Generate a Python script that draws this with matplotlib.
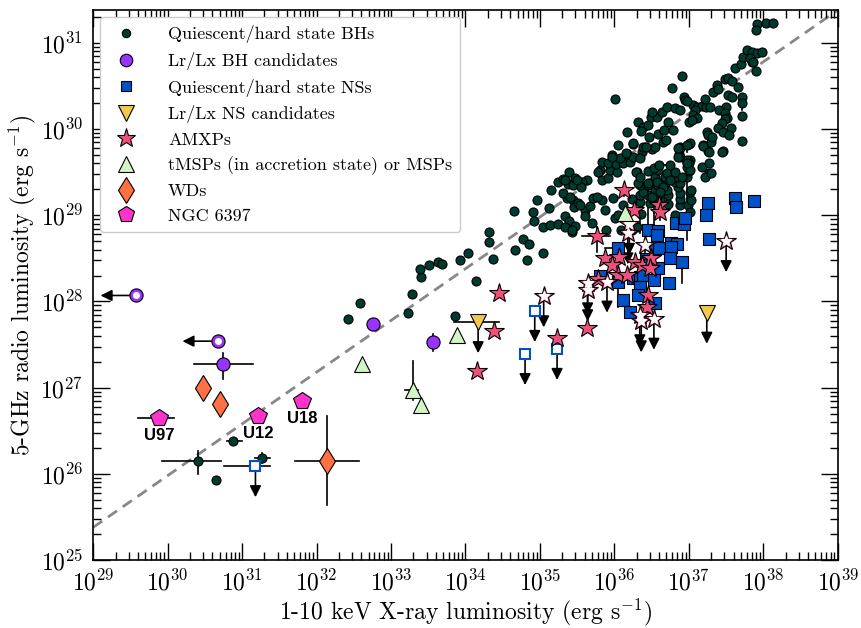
"""
Radio / X-ray luminosity plane for quiescent and hard-state compact binaries.
Values are log10 luminosities (erg/s) read off the reference figure.
"""

import numpy as np
import matplotlib

matplotlib.use("Agg")
from matplotlib import pyplot as plt
from matplotlib.lines import Line2D
from matplotlib.ticker import FixedLocator, LogLocator, NullFormatter

# ------------------- Data (log10 Lx, log10 Lr) ----------------------

bh_points = [
    (30.65, 25.93), (32.42, 27.80), (32.58, 27.98), (33.23, 27.87), (33.28, 28.09),
    (33.86, 27.83), (33.40, 28.28), (33.39, 28.38), (33.51, 28.42), (33.63, 28.46),
    (33.68, 28.43), (33.93, 28.48), (34.03, 28.56), (34.14, 28.24), (34.32, 28.81),
    (34.32, 28.69), (34.37, 28.49), (34.65, 29.05), (34.66, 28.60), (34.83, 28.48),
    (34.77, 28.72), (34.85, 28.67), (35.04, 28.56), (34.91, 29.04), (34.92, 28.93),
    (34.96, 29.18), (35.04, 28.86), (35.12, 29.08), (35.13, 28.89), (35.15, 29.29),
    (35.24, 29.39), (35.24, 28.90), (35.31, 29.42), (35.34, 28.99), (35.38, 29.36),
    (35.39, 29.50), (35.39, 28.93), (35.44, 29.35), (35.44, 29.18), (35.46, 29.10),
    (35.47, 29.43), (35.47, 28.87), (35.43, 28.81), (35.51, 29.14), (35.60, 29.06),
    (35.67, 29.11), (35.34, 28.86), (35.43, 28.83), (35.70, 28.91), (35.60, 28.99),
    (35.54, 29.12), (35.71, 29.20), (35.83, 29.18), (35.36, 29.20), (35.31, 29.26),
    (35.89, 28.83), (36.09, 28.83), (36.01, 28.97), (36.05, 29.00), (35.87, 29.06),
    (36.11, 29.12), (35.98, 29.20), (36.23, 29.19), (36.36, 29.01), (36.23, 28.83),
    (36.30, 28.86), (36.34, 29.15), (36.48, 29.14), (36.72, 29.13), (36.88, 29.12),
    (36.99, 29.12), (37.01, 29.04), (36.81, 29.00), (36.88, 29.19), (37.03, 29.18),
    (36.61, 29.18), (36.34, 29.23), (36.45, 29.23), (36.57, 29.21), (36.72, 29.23),
    (36.88, 29.26), (36.38, 29.27), (36.54, 29.29), (36.64, 29.29), (36.70, 29.29),
    (36.85, 29.33), (37.01, 29.27), (36.34, 29.35), (36.48, 29.37), (36.58, 29.35),
    (36.68, 29.37), (36.81, 29.39), (36.88, 29.37), (36.54, 29.44), (36.68, 29.44),
    (36.77, 29.47), (36.85, 29.44), (36.97, 29.44), (35.83, 29.41), (35.91, 29.43),
    (35.81, 29.52), (35.94, 29.52), (36.03, 29.50), (36.30, 29.50), (36.45, 29.51),
    (36.58, 29.52), (36.70, 29.49), (36.81, 29.50), (37.00, 29.51), (37.17, 29.56),
    (37.27, 29.49), (35.83, 29.62), (35.91, 29.61), (36.02, 29.59), (36.11, 29.61),
    (36.21, 29.62), (36.74, 29.58), (36.98, 29.62), (37.27, 29.61), (35.97, 29.70),
    (36.07, 29.66), (36.17, 29.71), (36.25, 29.68), (36.37, 29.73), (36.50, 29.77),
    (36.87, 29.71), (37.01, 29.64), (36.05, 29.81), (36.25, 29.83), (36.38, 29.79),
    (36.54, 29.79), (36.65, 29.85), (36.88, 29.79), (37.00, 29.83), (37.19, 29.81),
    (37.29, 29.85), (37.25, 29.74), (37.46, 29.74), (36.15, 29.72), (36.34, 29.66),
    (35.78, 29.50), (35.63, 29.41), (35.56, 29.39), (35.55, 29.33), (35.50, 29.41),
    (36.17, 29.97), (36.25, 29.84), (36.32, 30.08), (36.38, 30.02), (36.36, 29.98),
    (36.45, 30.05), (36.47, 29.91), (36.58, 29.94), (36.66, 29.99), (36.79, 29.99),
    (36.69, 29.87), (36.49, 30.14), (36.57, 30.14), (36.50, 30.20), (36.64, 30.20),
    (36.70, 30.26), (36.72, 30.08), (36.81, 30.24), (36.88, 30.22), (37.05, 30.28),
    (37.11, 30.26), (37.17, 30.27), (37.23, 30.26), (37.28, 30.26), (37.08, 30.22),
    (37.05, 30.16), (37.11, 30.13), (37.00, 30.08), (37.04, 30.10), (36.93, 30.37),
    (36.95, 30.34), (37.21, 30.35), (36.97, 30.32), (36.77, 30.48), (36.91, 30.62),
    (36.01, 30.35), (37.32, 30.43), (37.38, 30.51), (37.39, 30.46), (37.48, 30.58),
    (37.52, 30.59), (37.58, 30.56), (37.66, 30.49), (37.62, 30.71), (37.70, 30.75),
    (37.85, 30.78), (37.90, 30.67), (37.72, 30.84), (37.78, 30.92), (37.85, 30.89),
    (37.91, 30.88), (37.98, 30.89), (37.82, 30.82), (37.86, 30.78), (37.91, 31.22),
    (37.90, 31.15), (38.03, 31.23), (38.13, 31.23), (37.52, 30.39), (37.58, 30.37),
    (37.71, 30.37), (37.71, 30.15), (37.50, 30.26), (37.40, 30.22), (37.49, 30.19),
    (37.51, 30.13), (37.48, 30.12), (37.45, 30.07), (37.39, 30.01), (37.56, 30.01),
    (37.46, 29.97), (37.54, 29.93), (37.71, 29.86), (37.44, 29.73), (37.24, 29.97),
    (37.26, 29.93), (37.31, 29.91), (37.19, 29.80), (37.27, 29.73), (37.21, 29.44),
    (37.29, 29.49), (37.01, 29.84), (37.00, 29.61), (36.97, 29.56), (37.01, 29.52),
    (36.91, 29.44), (36.88, 29.78), (36.88, 29.68), (36.42, 29.79), (35.97, 29.68),
    (36.29, 29.50), (36.32, 29.37), (36.45, 29.35), (36.57, 29.39), (36.74, 29.41),
    (36.85, 29.68), (36.85, 29.78), (37.03, 29.29), (36.65, 29.33), (36.61, 29.27),
    (36.50, 29.21), (35.76, 29.21), (35.40, 29.21), (35.34, 29.41),
]
# BHs with error bars: lx, lr, lx_lo, lx_hi, lr_lo, lr_hi
bh_err = [
    (30.41, 26.15, 29.93, 30.72, 26.00, 26.27),
    (30.88, 26.38, 30.80, 31.00, 26.38, 26.38),
    (31.27, 26.18, 31.17, 31.38, 26.13, 26.24),
    (37.71, 30.30, 37.71, 37.71, 30.22, 30.37),
    (36.98, 29.81, 36.98, 36.98, 29.73, 29.86),
    (36.98, 29.64, 36.98, 36.98, 29.49, 29.66),
    (36.34, 29.44, 36.34, 36.34, 28.79, 29.44),
    (36.45, 29.37, 36.45, 36.45, 28.83, 29.37),
    (36.53, 29.55, 36.53, 36.53, 28.86, 29.55),
    (36.97, 29.61, 36.97, 36.97, 28.71, 29.61),
    (36.60, 29.58, 36.53, 36.74, 29.58, 29.58),
]

bhc_points = [(30.75, 27.27), (32.76, 27.74), (33.56, 27.53)]
bhc_err = [(30.36, 31.15, 27.10, 27.40), (32.76, 32.76, 27.74, 27.74), (33.56, 33.56, 27.43, 27.62)]
bhc_lx_limits = [(29.58, 28.07), (30.68, 27.54)]

ns_points = [
    (37.26, 29.14), (37.23, 29.00), (37.62, 29.20), (37.63, 29.10), (37.87, 29.17),
    (37.27, 28.72), (36.83, 28.91), (36.93, 28.90), (36.95, 28.97), (36.45, 28.83),
    (36.58, 28.82), (36.57, 28.77), (36.05, 28.62), (36.54, 28.61), (36.60, 28.62),
    (36.76, 28.68), (36.84, 28.67), (36.76, 28.63), (36.75, 28.50), (36.91, 28.46),
    (36.42, 28.49), (36.58, 28.39), (35.81, 28.30), (36.05, 28.23), (36.25, 28.27),
    (36.34, 28.28), (36.38, 28.31), (36.53, 28.25), (36.73, 28.21), (36.34, 28.17),
    (36.32, 28.07), (36.11, 28.02), (36.21, 27.88), (36.54, 27.98),
]
ns_err = [
    (36.05, 28.62, 35.87, 36.05, 28.62, 28.62),
    (36.91, 28.46, 36.91, 36.91, 28.21, 28.46),
    (36.73, 28.21, 36.68, 36.81, 28.21, 28.21),
    (36.05, 28.23, 36.05, 36.05, 27.94, 28.23),
    (37.26, 29.14, 37.19, 37.31, 29.14, 29.14),
]
ns_lr_limits = [(31.18, 26.09), (34.93, 27.89), (34.80, 27.39), (35.23, 27.45)]
ns_lr_limits_xerr = [(30.76, 31.38), (34.93, 34.93), (34.80, 34.80), (35.23, 35.23)]

nsc_lr_limits = [(34.17, 27.76), (37.24, 27.87)]
nsc_xerr = [(33.85, 34.45), (37.24, 37.24)]

amxp_points = [
    (36.13, 29.29), (36.26, 29.06), (36.60, 29.12), (36.61, 29.04), (35.77, 28.76),
    (35.87, 28.50), (36.06, 28.52), (35.97, 28.42), (36.28, 28.46), (36.37, 28.42),
    (36.49, 28.50), (36.48, 28.39), (36.05, 28.31), (36.17, 28.31), (35.78, 28.26),
    (36.45, 28.07), (36.44, 27.94), (35.63, 27.69), (35.23, 27.58), (34.45, 28.10),
    (34.38, 27.66), (34.15, 27.19),
]
amxp_err = [
    (35.77, 28.76, 35.56, 35.94, 28.57, 28.86),
    (36.13, 29.29, 36.13, 36.13, 29.22, 29.33),
    (36.61, 29.04, 36.61, 36.61, 28.95, 29.15),
]
amxp_lr_limits = [
    (35.05, 28.06), (35.64, 28.21), (35.64, 28.13), (35.90, 28.23), (36.20, 28.90),
    (36.18, 28.79), (36.41, 28.65), (36.34, 27.84), (36.36, 27.77), (36.53, 27.80),
    (37.50, 28.70),
]

msp_points = [(32.61, 27.27), (33.30, 26.97), (33.40, 26.80), (33.89, 27.61), (36.14, 29.03)]
msp_err = [(33.30, 26.97, 33.19, 33.36, 26.86, 27.31)]

wd_points = [(30.48, 27.00), (30.71, 26.81), (32.14, 26.15)]
wd_err = [(32.14, 26.15, 31.71, 32.57, 25.64, 26.67)]

ngc_points = [(29.89, 26.65), (31.22, 26.67), (31.81, 26.85)]
ngc_names = ["U97", "U12", "U18"]
ngc_err = [(29.89, 26.65, 29.60, 30.09, 26.65, 26.65)]

# Lr proportional to Lx^0.6
track_lx = [29.0, 39.0]
track_slope = 0.6
track_norm = 7.98

# axis decades
x_decades = np.arange(29, 40)
y_decades = np.arange(25, 32)

# ------------------- Styling ----------------------

C_BH = "#003b30"
C_BHC = "#9933ff"
C_NS = "#0050c8"
C_NSC = "#f2c94c"
C_AMXP = "#f04f7a"
C_MSP = "#d3f5c4"
C_WD = "#ff7043"
C_NGC = "#ff33cc"

plt.rcParams.update({
    "font.family": "serif",
    "font.serif": ["cmr10", "DejaVu Serif"],
    "mathtext.fontset": "cm",
    "axes.unicode_minus": False,
    "axes.formatter.use_mathtext": True,
})


def lum(pts):
    arr = 10 ** np.array(pts, dtype=float)
    return arr[:, 0], arr[:, 1]


def draw_err(ax, rows, color="k"):
    for lx, lr, xlo, xhi, ylo, yhi in rows:
        if xhi > xlo:
            ax.plot([10 ** xlo, 10 ** xhi], [10 ** lr, 10 ** lr], color=color, lw=1.2, zorder=2)
        if yhi > ylo:
            ax.plot([10 ** lx, 10 ** lx], [10 ** ylo, 10 ** yhi], color=color, lw=1.2, zorder=2)


def arrow(ax, x0, y0, x1, y1):
    ax.annotate(
        "", xy=(x1, y1), xytext=(x0, y0), zorder=2,
        arrowprops=dict(arrowstyle="-|>", color="k", lw=1.2, mutation_scale=17,
                        shrinkA=0, shrinkB=0),
    )


fig = plt.figure(figsize=(8.62, 6.28), dpi=100)
ax = fig.add_axes([0.108, 0.108, 0.864, 0.876])
ax.set_xscale("log")
ax.set_yscale("log")

# dashed correlation line
tx = np.array(track_lx)
ax.plot(10 ** tx, 10 ** (track_slope * tx + track_norm), ls="--", color="#888888",
        lw=2, dashes=(4, 2.5), zorder=1)

# error bars first (behind markers)
draw_err(ax, bh_err)
draw_err(ax, ns_err)
draw_err(ax, amxp_err)
draw_err(ax, msp_err)
draw_err(ax, wd_err)
draw_err(ax, ngc_err)
for (lx, lr), (xlo, xhi, ylo, yhi) in zip(bhc_points, bhc_err):
    draw_err(ax, [(lx, lr, xlo, xhi, ylo, yhi)])
for (lx, lr), (xlo, xhi) in zip(ns_lr_limits + nsc_lr_limits, ns_lr_limits_xerr + nsc_xerr):
    draw_err(ax, [(lx, lr, xlo, xhi, lr, lr)])

# upper-limit arrows
for lx, lr in ns_lr_limits + nsc_lr_limits + amxp_lr_limits:
    arrow(ax, 10 ** lx, 10 ** lr, 10 ** lx, 10 ** (lr - 0.36))
for lx, lr in bhc_lx_limits:
    arrow(ax, 10 ** lx, 10 ** lr, 10 ** (lx - 0.48), 10 ** lr)

mk = dict(linestyle="none", markeredgecolor="k", markeredgewidth=0.8, zorder=3)

x, y = lum(bh_points + [r[:2] for r in bh_err])
ax.plot(x, y, "o", color=C_BH, markersize=6.5, **mk)

x, y = lum(ns_points)
ax.plot(x, y, "s", color=C_NS, markersize=8, **mk)
x, y = lum(ns_lr_limits)
ax.plot(x, y, "s", markerfacecolor="white", markeredgecolor=C_NS, markeredgewidth=1.5,
        markersize=7.5, linestyle="none", zorder=3)

x, y = lum(amxp_points)
ax.plot(x, y, "*", color=C_AMXP, markersize=15, **mk)
x, y = lum(amxp_lr_limits)
ax.plot(x, y, "*", color=C_AMXP, markersize=15, **mk)
ax.plot(x, y, "*", color="white", markersize=7, linestyle="none", zorder=3)

x, y = lum(nsc_lr_limits)
ax.plot(x, y, "v", color=C_NSC, markersize=12, **mk)

x, y = lum(msp_points)
ax.plot(x, y, "^", color=C_MSP, markersize=12, **mk)

x, y = lum(bhc_points)
ax.plot(x, y, "o", color=C_BHC, markersize=9.5, **mk)
x, y = lum(bhc_lx_limits)
ax.plot(x, y, "o", color=C_BHC, markersize=9.5, **mk)
ax.plot(x, y, "o", color="white", markersize=4, linestyle="none", zorder=3)

x, y = lum(wd_points)
ax.plot(x, y, "d", color=C_WD, markersize=13, **mk)

x, y = lum(ngc_points)
ax.plot(x, y, "p", color=C_NGC, markersize=13, **mk)
for xi, yi, name in zip(x, y, ngc_names):
    ax.annotate(name, (xi, yi), xytext=(0, -12.5), textcoords="offset points",
                ha="center", va="center", fontsize=12, fontweight="bold",
                family="Liberation Sans", zorder=4)

# axes
ax.set_xlim(1e29, 1e39)
ax.set_ylim(1e25, 10 ** 31.38)
ax.set_xlabel("1-10 keV X-ray luminosity (erg s$^{-1}$)", fontsize=17, labelpad=1)
ax.set_ylabel("5-GHz radio luminosity (erg s$^{-1}$)", fontsize=17, labelpad=2)
ax.xaxis.set_major_locator(FixedLocator(10.0 ** x_decades))
ax.yaxis.set_major_locator(FixedLocator(10.0 ** y_decades))
for axis in (ax.xaxis, ax.yaxis):
    axis.set_minor_locator(LogLocator(base=10, subs=np.arange(2, 10), numticks=100))
    axis.set_minor_formatter(NullFormatter())
ax.tick_params(which="both", direction="in", top=True, right=True, labelsize=17, pad=7)
ax.tick_params(which="major", length=12, width=1)
ax.tick_params(which="minor", length=6, width=1, labelbottom=False, labelleft=False)
for sp in ax.spines.values():
    sp.set_linewidth(1.2)

handles = [
    Line2D([], [], marker="o", color=C_BH, markersize=6, **mk),
    Line2D([], [], marker="o", color=C_BHC, markersize=9, **mk),
    Line2D([], [], marker="s", color=C_NS, markersize=7.5, **mk),
    Line2D([], [], marker="v", color=C_NSC, markersize=11, **mk),
    Line2D([], [], marker="*", color=C_AMXP, markersize=14, **mk),
    Line2D([], [], marker="^", color=C_MSP, markersize=11, **mk),
    Line2D([], [], marker="d", color=C_WD, markersize=13, **mk),
    Line2D([], [], marker="p", color=C_NGC, markersize=12, **mk),
]
labels = [
    "Quiescent/hard state BHs",
    "Lr/Lx BH candidates",
    "Quiescent/hard state NSs",
    "Lr/Lx NS candidates",
    "AMXPs",
    "tMSPs (in accretion state) or MSPs",
    "WDs",
    "NGC 6397",
]
leg = ax.legend(handles, labels, loc="upper left", fontsize=13, frameon=True,
                fancybox=True, framealpha=1, edgecolor="#cccccc", labelspacing=0.48,
                handletextpad=1.3, borderaxespad=0.4, borderpad=0.45)
leg.set_zorder(5)

fig.savefig("out.png", dpi=100)
